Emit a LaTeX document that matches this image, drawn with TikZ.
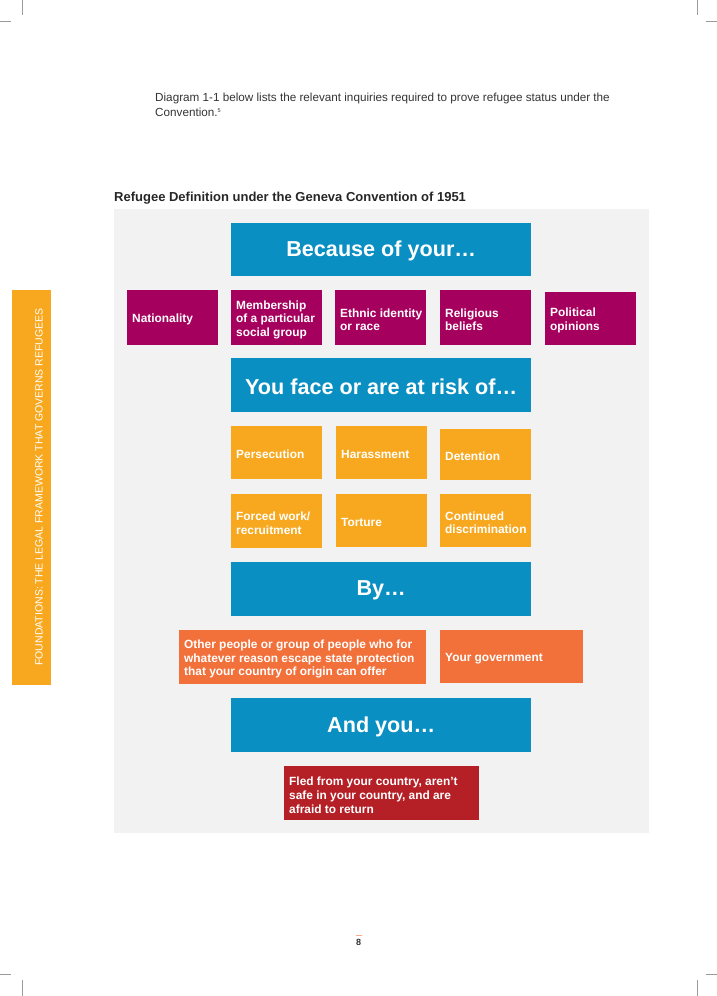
\documentclass[tikz,border=0pt]{standalone}
\usepackage{fontspec}
\setmainfont{Liberation Sans}
\definecolor{bgray}{HTML}{F2F2F2}
\definecolor{cblue}{HTML}{0A8FC2}
\definecolor{cpurple}{HTML}{A6005F}
\definecolor{corange}{HTML}{F7A81E}
\definecolor{cred}{HTML}{F2703A}
\definecolor{cdark}{HTML}{B51F26}
\definecolor{ctext}{HTML}{333333}
\definecolor{cmark}{HTML}{9A9A9A}
\tikzset{
  boxfill/.style={inner sep=0pt, anchor=north west},
  headtext/.style={text=white, font=\bfseries\fontsize{21.6}{24}\selectfont, inner sep=0pt, anchor=center},
  itemtext/.style={text=white, font=\bfseries\fontsize{11.9}{13.6}\selectfont, inner sep=0pt, anchor=west, align=left},
  cropmark/.style={draw=cmark, line width=0.6pt}
}
\newcommand{\itembox}[7]{% name, color, x, y, w, h, text
  \node[boxfill, fill=#2, minimum height=#6pt, minimum width=#5pt] (#1) at (#3,#4) {};
  \node[itemtext] (#1t) at ([xshift=5pt,yshift=-2pt]#1.west) {#7};}
\newcommand{\headbox}[5]{% name, x, y, h, text
  \node[boxfill, fill=cblue, minimum width=300pt, minimum height=#4pt] (#1) at (#2,#3) {};
  \node[headtext] (#1t) at ([yshift=-1.5pt]#1.center) {#5};}
\begin{document}
\begin{tikzpicture}[x=1pt,y=-1pt]
\useasboundingbox (0,0) rectangle (717,996);
% crop marks
\coordinate (m1a) at (22,0); \coordinate (m1b) at (22,15);
\coordinate (m2a) at (0,21); \coordinate (m2b) at (11,21);
\coordinate (m3a) at (697,0); \coordinate (m3b) at (697,15);
\coordinate (m4a) at (706,21); \coordinate (m4b) at (717,21);
\coordinate (m5a) at (22,980); \coordinate (m5b) at (22,996);
\coordinate (m6a) at (0,974); \coordinate (m6b) at (11,974);
\coordinate (m7a) at (697,980); \coordinate (m7b) at (697,996);
\coordinate (m8a) at (706,974); \coordinate (m8b) at (717,974);
\foreach \i in {1,...,8} {\draw[cropmark] (m\i a) -- (m\i b);}
% intro text
\node[anchor=base west, inner sep=0pt, text=ctext, font=\fontsize{11.7}{15}\selectfont] (intro) at (155,101.5)
  {Diagram 1-1 below lists the relevant inquiries required to prove refugee status under the};
\node[anchor=base west, inner sep=0pt, text=ctext, font=\fontsize{11.7}{15}\selectfont] (intro2) at (155,116.5)
  {Convention.\textsuperscript{\fontsize{5.5}{5.5}\selectfont 5}};
% title
\node[anchor=base west, inner sep=0pt, text=black!85, font=\bfseries\fontsize{13}{15}\selectfont] (title) at (114,201.5)
  {Refugee Definition under the Geneva Convention of 1951};
% background panel
\node[fill=bgray, anchor=north west, inner sep=0pt, minimum width=535pt, minimum height=624pt] (panel) at (114,209) {};
% side bar
\node[fill=corange, anchor=north west, inner sep=0pt, minimum width=39pt, minimum height=395pt] (side) at (12,290) {};
\node[rotate=90, text=white, font=\fontsize{10.5}{12}\selectfont, inner sep=0pt] (sidetext) at (39,487) {FOUNDATIONS: THE LEGAL FRAMEWORK THAT GOVERNS REFUGEES};
% headers
\headbox{h1}{231}{223}{53}{Because of your…}
\headbox{h2}{231}{358}{54}{You face or are at risk of…}
\headbox{h3}{231}{562}{54}{By…}
\headbox{h4}{231}{698}{54}{And you…}
% purple row
\itembox{p1}{cpurple}{127}{290}{91}{55}{Nationality}
\itembox{p2}{cpurple}{231}{290}{91}{55}{Membership\\of a particular\\social group}
\itembox{p3}{cpurple}{335}{290}{91}{55}{Ethnic identity\\or race}
\itembox{p4}{cpurple}{440}{290}{91}{55}{Religious\\beliefs}
\itembox{p5}{cpurple}{545}{292}{91}{53}{Political\\opinions}
% orange rows
\itembox{o1}{corange}{231}{426}{91}{53}{Persecution}
\itembox{o2}{corange}{336}{426}{91}{53}{Harassment}
\itembox{o3}{corange}{440}{429}{91}{51}{Detention}
\itembox{o4}{corange}{231}{494}{91}{54}{Forced work/\\recruitment}
\itembox{o5}{corange}{336}{494}{91}{53}{Torture}
\itembox{o6}{corange}{440}{494}{91}{53}{Continued\\discrimination}
% by whom
\itembox{r1}{cred}{179}{630}{247}{54}{Other people or group of people who for\\whatever reason escape state protection\\that your country of origin can offer}
\itembox{r2}{cred}{440}{630}{143}{53}{Your government}
% and you
\itembox{d1}{cdark}{284}{766}{195}{54}{Fled from your country, aren’t\\safe in your country, and are\\afraid to return}
% page number
\coordinate (pa) at (355.5,935.5); \coordinate (pb) at (361.5,935.5);
\draw[draw=cred!60, line width=0.8pt] (pa) -- (pb);
\node[inner sep=0pt, text=ctext, font=\bfseries\fontsize{9}{10}\selectfont] (pnum) at (358.5,942.5) {8};
\end{tikzpicture}
\end{document}
